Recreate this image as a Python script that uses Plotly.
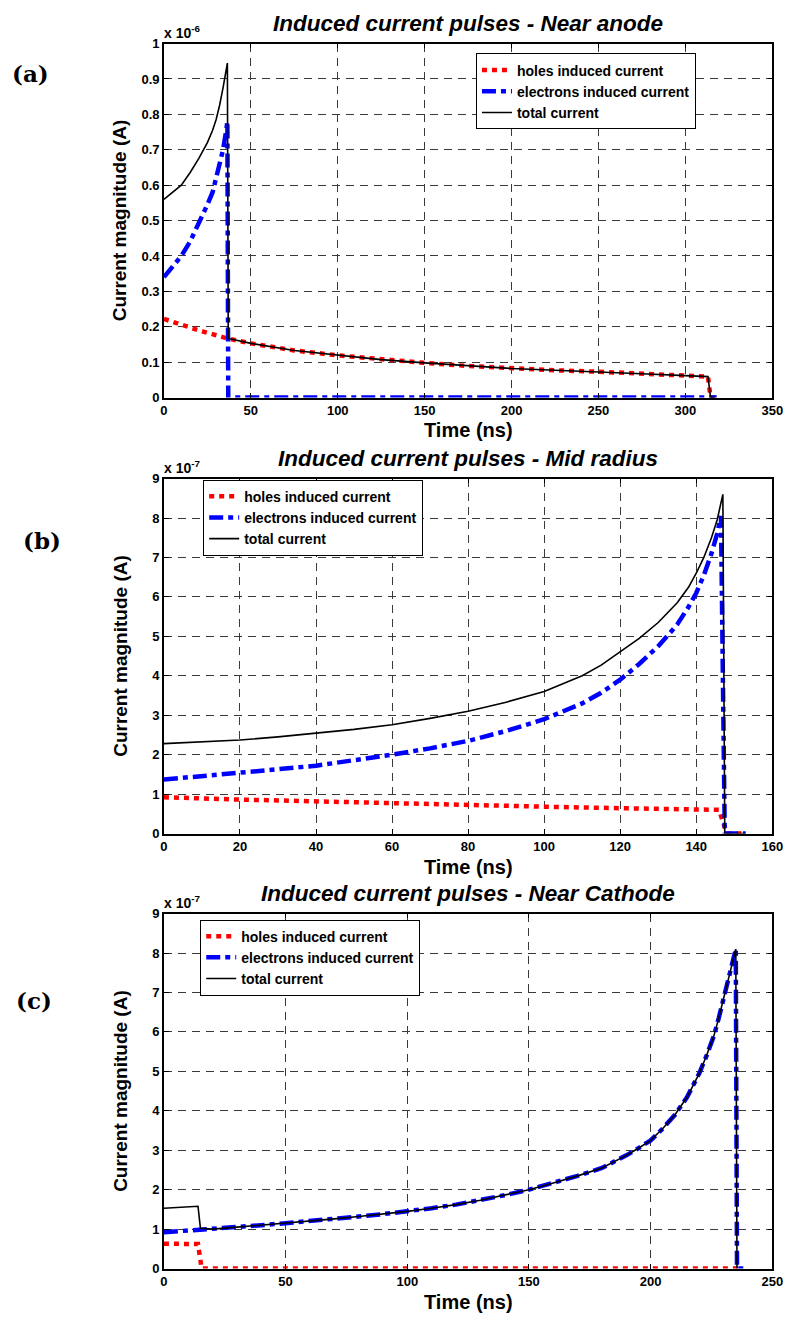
import plotly.graph_objects as go

# ---------------- DATA ----------------
# Panel (a): Near anode  (current in units of 1e-6 A, time in ns)
t_holes_a = [0, 10, 20, 30, 36.5, 50, 75, 100, 125, 150, 175, 200, 225, 250, 275, 300, 313, 314.5, 317]
holes_a = [0.222, 0.205, 0.19, 0.176, 0.167, 0.153, 0.133, 0.119, 0.107, 0.098, 0.089, 0.082,
           0.077, 0.073, 0.067, 0.062, 0.059, 0.0, 0.0]
t_elec_a = [0, 5, 10, 15, 20, 25, 28, 30, 32, 34, 36, 36.5, 37, 318]
elec_a = [0.34, 0.37, 0.40, 0.44, 0.49, 0.545, 0.58, 0.62, 0.66, 0.70, 0.76, 0.78, 0.0, 0.0]
t_total_a = [0, 5, 10, 15, 20, 25, 28, 30, 32, 34, 36, 36.5, 37, 50, 75, 100, 125, 150, 175, 200,
             225, 250, 275, 300, 313, 314.5, 317]
total_a = [0.56, 0.58, 0.60, 0.635, 0.675, 0.72, 0.755, 0.785, 0.825, 0.875, 0.93, 0.945, 0.167,
           0.153, 0.133, 0.119, 0.107, 0.098, 0.089, 0.082, 0.077, 0.073, 0.067, 0.062, 0.059,
           0.0, 0.0]

# Panel (b): Mid radius (current in units of 1e-7 A)
t_holes_b = [0, 10, 20, 30, 40, 50, 60, 70, 80, 90, 100, 110, 120, 130, 140, 146, 148, 153]
holes_b = [0.92, 0.88, 0.86, 0.84, 0.81, 0.79, 0.77, 0.75, 0.72, 0.70, 0.68, 0.66, 0.65, 0.63,
           0.61, 0.60, 0.0, 0.0]
t_elec_b = [0, 10, 20, 30, 40, 50, 60, 70, 80, 90, 100, 110, 115, 120, 125, 130, 135, 138, 140,
            142, 144, 145.5, 146.5, 147.5, 153]
elec_b = [1.37, 1.45, 1.55, 1.63, 1.72, 1.85, 2.0, 2.16, 2.35, 2.6, 2.9, 3.3, 3.57, 3.9, 4.3,
          4.75, 5.3, 5.75, 6.1, 6.55, 7.1, 7.6, 8.05, 0.0, 0.0]
t_total_b = [0, 10, 20, 30, 40, 50, 60, 70, 80, 90, 100, 110, 115, 120, 125, 130, 135, 138, 140,
             142, 144, 145.5, 147, 147.5, 153]
total_b = [2.28, 2.32, 2.37, 2.45, 2.54, 2.64, 2.76, 2.92, 3.1, 3.33, 3.6, 4.0, 4.27, 4.6, 4.95,
           5.35, 5.85, 6.25, 6.6, 7.0, 7.5, 7.95, 8.6, 0.0, 0.0]

# Panel (c): Near Cathode (current in units of 1e-7 A)
t_holes_c = [0, 14, 15.5, 236]
holes_c = [0.63, 0.62, 0.0, 0.0]
t_elec_c = [0, 5, 10, 15, 20, 30, 40, 50, 60, 70, 80, 90, 100, 110, 120, 130, 140, 150, 160, 170,
            180, 185, 190, 195, 200, 205, 210, 215, 220, 223, 226, 228, 230.5, 233, 235, 235.5,
            239.5]
elec_c = [0.92, 0.94, 0.96, 0.98, 1.0, 1.05, 1.1, 1.15, 1.2, 1.26, 1.32, 1.38, 1.45, 1.53, 1.62,
          1.73, 1.86, 2.0, 2.17, 2.35, 2.55, 2.7, 2.87, 3.05, 3.25, 3.55, 3.9, 4.35, 4.95, 5.4,
          5.9, 6.35, 7.0, 7.6, 8.1, 0.0, 0.0]
t_total_c = [0, 14, 15, 20, 30, 40, 50, 60, 70, 80, 90, 100, 110, 120, 130, 140, 150, 160, 170,
             180, 185, 190, 195, 200, 205, 210, 215, 220, 223, 226, 228, 230.5, 233, 235, 235.5]
total_c = [1.53, 1.58, 1.02, 1.0, 1.05, 1.1, 1.15, 1.2, 1.26, 1.32, 1.38, 1.45, 1.53, 1.62, 1.73,
           1.86, 2.0, 2.17, 2.35, 2.55, 2.7, 2.87, 3.05, 3.25, 3.55, 3.9, 4.35, 4.95, 5.4, 5.9,
           6.35, 7.0, 7.6, 8.1, 0.0]

series_names = ["holes induced current", "electrons induced current", "total current"]
titles = ["Induced current pulses - Near anode", "Induced current pulses - Mid radius",
          "Induced current pulses - Near Cathode"]
exponents = ["-6", "-7", "-7"]
panel_labels = ["(a)", "(b)", "(c)"]
x_ranges = [[0, 350], [0, 160], [0, 250]]
x_dticks = [50, 20, 50]
y_ranges = [[0, 1], [0, 9], [0, 9]]
y_dticks = [0.1, 1, 1]

# ---------------- LAYOUT GEOMETRY ----------------
W, H = 798, 1324
def px(xp):
    return xp / W
def py(yp):
    return 1 - yp / H

SANS = "Liberation Sans, Arial, sans-serif"
x_dom = [px(163), px(783)]
panels_px = [(37, 395), (477, 836), (917, 1276)]  # (top, bottom) pixel rows
title_y = [17, 457, 897]
exp_y = [25, 465, 905]
xtitle_y = [428, 870, 1310]
label_pos = [(27, 67), (39, 540), (31, 1005)]
legend_pos = [(481, 47), (203, 478), (200, 923)]

RED = "#ff0000"
BLUE = "#0000ff"

fig = go.Figure()

data = [
    (t_holes_a, holes_a, t_elec_a, elec_a, t_total_a, total_a),
    (t_holes_b, holes_b, t_elec_b, elec_b, t_total_b, total_b),
    (t_holes_c, holes_c, t_elec_c, elec_c, t_total_c, total_c),
]

for i, (th, h, te, e, tt, tot) in enumerate(data):
    sfx = "" if i == 0 else str(i + 1)
    xa, ya = "x" + sfx, "y" + sfx
    leg = "legend" + sfx
    fig.add_trace(go.Scatter(x=th, y=h, mode="lines", name=series_names[0], xaxis=xa, yaxis=ya,
                             legend=leg, line=dict(color=RED, width=4.5, dash="5px,5px")))
    fig.add_trace(go.Scatter(x=te, y=e, mode="lines", name=series_names[1], xaxis=xa, yaxis=ya,
                             legend=leg, line=dict(color=BLUE, width=4.5, dash="14px,5px,5px,5px")))
    fig.add_trace(go.Scatter(x=tt, y=tot, mode="lines", name=series_names[2], xaxis=xa, yaxis=ya,
                             legend=leg, line=dict(color="black", width=1.6)))

tick_font = dict(family=SANS, size=13, color="black", weight="bold")
axis_common = dict(showline=True, linecolor="black", linewidth=1.5, mirror="ticks",
                   ticks="inside", ticklen=5, tickcolor="black", tickwidth=1,
                   showgrid=True, gridcolor="#3a3a3a", gridwidth=1, griddash="8px,6px",
                   zeroline=False, tickfont=tick_font)

layout = dict(width=W, height=H, margin=dict(l=0, r=0, t=0, b=0),
              paper_bgcolor="white", plot_bgcolor="white", showlegend=True,
              font=dict(family=SANS, color="black"))
annotations = []

for i in range(3):
    sfx = "" if i == 0 else str(i + 1)
    top, bot = panels_px[i]
    layout["xaxis" + sfx] = dict(domain=x_dom, range=x_ranges[i], dtick=x_dticks[i], tick0=0,
                                 anchor="y" + sfx, **axis_common)
    layout["yaxis" + sfx] = dict(domain=[py(bot), py(top)], range=y_ranges[i], dtick=y_dticks[i],
                                 tick0=0, anchor="x" + sfx, **axis_common)
    lx, ly = legend_pos[i]
    layout["legend" + sfx] = dict(x=px(lx), y=py(ly), xanchor="left", yanchor="top",
                                  xref="paper", yref="paper",
                                  bgcolor="white", bordercolor="black", borderwidth=1,
                                  itemwidth=30, tracegroupgap=0,
                                  font=dict(family=SANS, size=14, color="black", weight="bold"))
    xc = 0.5 * (x_dom[0] + x_dom[1])
    annotations.append(dict(text=titles[i], x=xc, y=py(title_y[i]), xref="paper", yref="paper",
                            xanchor="center", yanchor="middle", showarrow=False,
                            font=dict(family=SANS, size=22.5, color="black", weight="bold",
                                      style="italic")))
    annotations.append(dict(text="x 10<sup>" + exponents[i] + "</sup>", x=px(161), y=py(exp_y[i]),
                            xref="paper", yref="paper", xanchor="left", yanchor="middle",
                            showarrow=False,
                            font=dict(family=SANS, size=14, color="black", weight="bold")))
    annotations.append(dict(text="Time (ns)", x=xc, y=py(xtitle_y[i]), xref="paper", yref="paper",
                            xanchor="center", yanchor="middle", showarrow=False,
                            font=dict(family=SANS, size=20, color="black", weight="bold")))
    annotations.append(dict(text="Current magnitude (A)", x=px(118), y=py(0.5 * (top + bot)),
                            xref="paper", yref="paper", xanchor="center", yanchor="middle",
                            textangle=-90, showarrow=False,
                            font=dict(family=SANS, size=19, color="black", weight="bold")))
    lx2, ly2 = label_pos[i]
    annotations.append(dict(text=panel_labels[i], x=px(lx2), y=py(ly2), xref="paper", yref="paper",
                            xanchor="center", yanchor="middle", showarrow=False,
                            font=dict(family="DejaVu Serif, Liberation Serif, serif", size=23,
                                      color="black", weight="bold")))

layout["annotations"] = annotations
fig.update_layout(**layout)
fig.write_html("out.html")
